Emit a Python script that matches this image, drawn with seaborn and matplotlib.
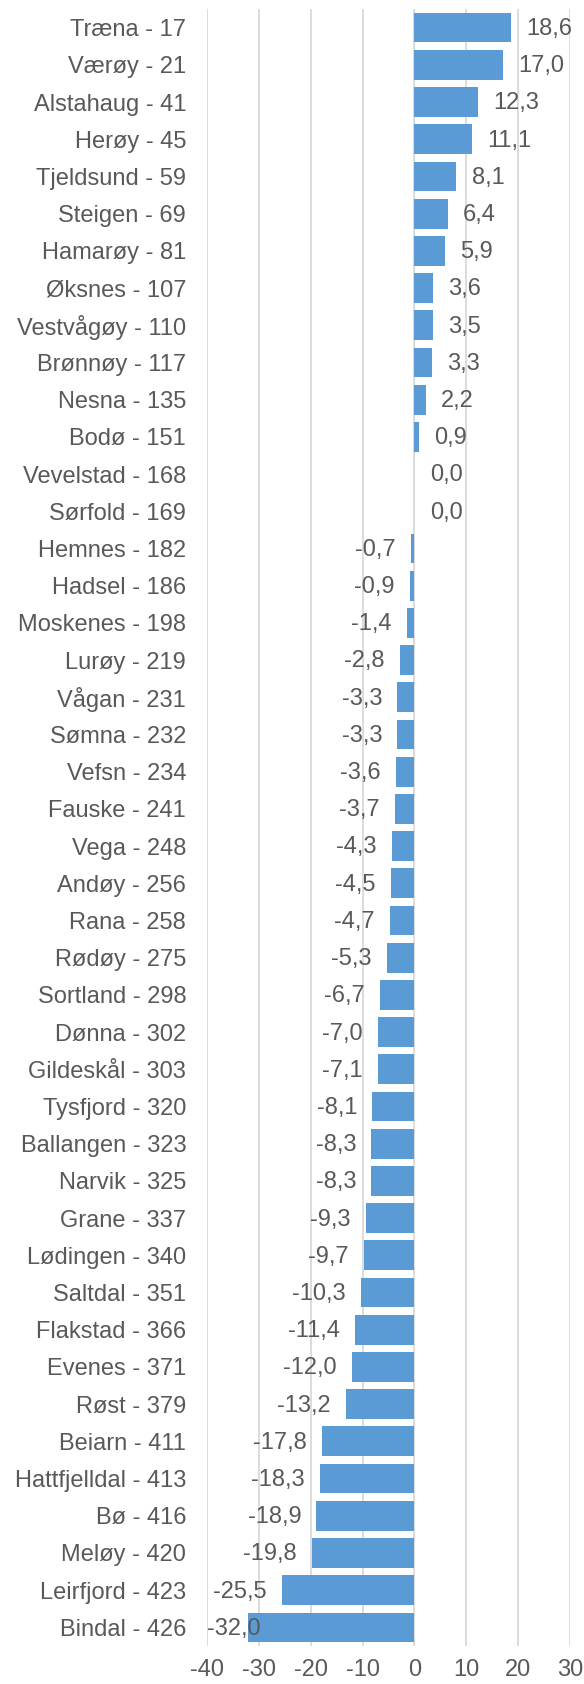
import pandas as pd
import numpy as np
import matplotlib.pyplot as plt
import seaborn as sns

# Data
kommuner = ["Træna - 17", "Værøy - 21", "Alstahaug - 41", "Herøy - 45", "Tjeldsund - 59",
            "Steigen - 69", "Hamarøy - 81", "Øksnes - 107", "Vestvågøy - 110", "Brønnøy - 117",
            "Nesna - 135", "Bodø - 151", "Vevelstad - 168", "Sørfold - 169", "Hemnes - 182",
            "Hadsel - 186", "Moskenes - 198", "Lurøy - 219", "Vågan - 231", "Sømna - 232",
            "Vefsn - 234", "Fauske - 241", "Vega - 248", "Andøy - 256", "Rana - 258",
            "Rødøy - 275", "Sortland - 298", "Dønna - 302", "Gildeskål - 303", "Tysfjord - 320",
            "Ballangen - 323", "Narvik - 325", "Grane - 337", "Lødingen - 340", "Saltdal - 351",
            "Flakstad - 366", "Evenes - 371", "Røst - 379", "Beiarn - 411", "Hattfjelldal - 413",
            "Bø - 416", "Meløy - 420", "Leirfjord - 423", "Bindal - 426"]
endring = [18.6, 17.0, 12.3, 11.1, 8.1, 6.4, 5.9, 3.6, 3.5, 3.3,
           2.2, 0.9, 0.0, 0.0, -0.7, -0.9, -1.4, -2.8, -3.3, -3.3,
           -3.6, -3.7, -4.3, -4.5, -4.7, -5.3, -6.7, -7.0, -7.1, -8.1,
           -8.3, -8.3, -9.3, -9.7, -10.3, -11.4, -12.0, -13.2, -17.8, -18.3,
           -18.9, -19.8, -25.5, -32.0]
x_ticks = [-40, -30, -20, -10, 0, 10, 20, 30]

df = pd.DataFrame({"kommune": kommuner, "endring": endring})

grey = "#595959"
plt.rcParams["font.family"] = ["Liberation Sans", "DejaVu Sans"]

fig = plt.figure(figsize=(5.84, 16.84), dpi=100)
ax = fig.add_axes([207 / 584, 1 - 1646 / 1684, (570 - 207) / 584, (1646 - 9) / 1684])

sns.barplot(data=df, x="endring", y="kommune", orient="h", color="#5B9BD5",
            saturation=1, width=0.8, ax=ax, zorder=2)

ax.set_xlim(-40, 30)
ax.set_xticks(x_ticks)
ax.set_xticklabels([str(t) for t in x_ticks])
ax.set_ylim(len(kommuner) - 0.5, -0.5)
ax.grid(axis="x", color="#D9D9D9", linewidth=1.3, zorder=0)
ax.grid(axis="y", visible=False)
for s in ax.spines.values():
    s.set_visible(False)
ax.tick_params(axis="both", length=0, labelsize=17, labelcolor=grey)
ax.tick_params(axis="y", pad=15)
ax.tick_params(axis="x", pad=9)
ax.set_xlabel("")
ax.set_ylabel("")

# data labels, outside end like in Excel
fig.canvas.draw()
renderer = fig.canvas.get_renderer()
left_px = ax.transData.transform((-40, 0))[0]
for i, v in enumerate(endring):
    lab = f"{v:.1f}".replace(".", ",")
    if v >= 0:
        ax.annotate(lab, (v, i), xytext=(11, -1), textcoords="offset points",
                    ha="left", va="center", fontsize=17, color=grey)
    else:
        t = ax.annotate(lab, (v, i), xytext=(-11, -1), textcoords="offset points",
                        ha="right", va="center", fontsize=17, color=grey)
        bb = t.get_window_extent(renderer)
        if bb.x0 < left_px:
            t.remove()
            ax.annotate(lab, (-40, i), xytext=(0, -1), textcoords="offset points",
                        ha="left", va="center", fontsize=17, color=grey)

plt.savefig("out.png", dpi=100)
